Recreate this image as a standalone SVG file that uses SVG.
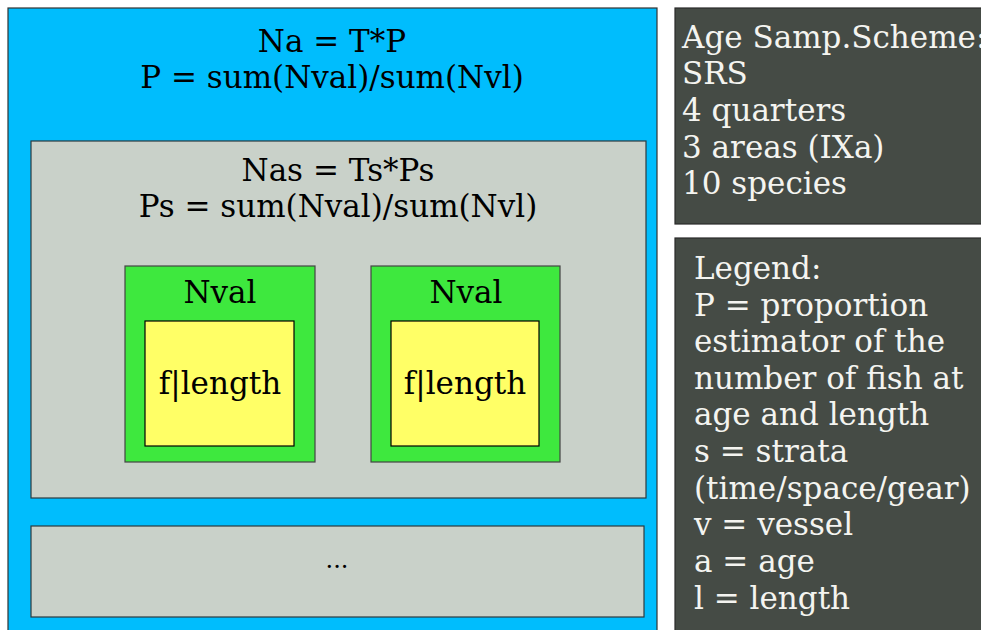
<svg xmlns="http://www.w3.org/2000/svg" width="981" height="630" viewBox="0 0 981 630">
<style>
text{font-family:"DejaVu Serif",serif;font-size:31px;fill:#000}
.c{text-anchor:middle}
.w{fill:#f4f4f0}
.dk{fill:#454b45;stroke:#2a2a2a;stroke-width:1.2}
.gr{fill:#c9d1c9;stroke:#2c3a40;stroke-width:1.2}
</style>
<rect width="981" height="630" fill="#ffffff"/>
<g id="outer">
<rect x="8" y="8" width="649" height="630" fill="#00bdfd" stroke="#333" stroke-width="1.2"/>
<text class="c" x="332" y="52">Na = T*P</text>
<text class="c" x="332" y="88">P = sum(Nval)/sum(Nvl)</text>
</g>
<g id="strata">
<rect class="gr" x="31" y="141" width="615" height="357"/>
<text class="c" x="338" y="181">Nas = Ts*Ps</text>
<text class="c" x="338" y="217">Ps = sum(Nval)/sum(Nvl)</text>
</g>
<g id="nval1">
<rect x="125" y="266" width="190" height="196" fill="#3ee83e" stroke="#444" stroke-width="1.2"/>
<text class="c" x="220" y="303">Nval</text>
</g>
<g id="flen1">
<rect x="145" y="321" width="149" height="125" fill="#ffff66" stroke="#000" stroke-width="1.2"/>
<text class="c" x="220" y="394">f|length</text>
</g>
<g id="nval2">
<rect x="371" y="266" width="189" height="196" fill="#3ee83e" stroke="#444" stroke-width="1.2"/>
<text class="c" x="466" y="303">Nval</text>
</g>
<g id="flen2">
<rect x="391" y="321" width="148" height="125" fill="#ffff66" stroke="#000" stroke-width="1.2"/>
<text class="c" x="465" y="394">f|length</text>
</g>
<g id="more">
<rect class="gr" x="31" y="526" width="613" height="91"/>
<text class="c" x="337" y="568" style="font-size:24px">...</text>
</g>
<g id="scheme">
<rect class="dk" x="675" y="8" width="310" height="216"/>
<text class="w" x="682" y="48">Age Samp.Scheme:</text>
<text class="w" x="682" y="84">SRS</text>
<text class="w" x="682" y="121">4 quarters</text>
<text class="w" x="682" y="158">3 areas (IXa)</text>
<text class="w" x="682" y="194">10 species</text>
</g>
<g id="legend">
<rect class="dk" x="675" y="238" width="310" height="400"/>
<text class="w" x="694" y="279">Legend:</text>
<text class="w" x="694" y="316">P = proportion</text>
<text class="w" x="694" y="352">estimator of the</text>
<text class="w" x="694" y="389">number of fish at</text>
<text class="w" x="694" y="425">age and length</text>
<text class="w" x="694" y="462">s = strata</text>
<text class="w" x="694" y="499">(time/space/gear)</text>
<text class="w" x="694" y="535">v = vessel</text>
<text class="w" x="694" y="572">a = age</text>
<text class="w" x="694" y="609">l = length</text>
</g>
<g id="connectors"></g>
</svg>
